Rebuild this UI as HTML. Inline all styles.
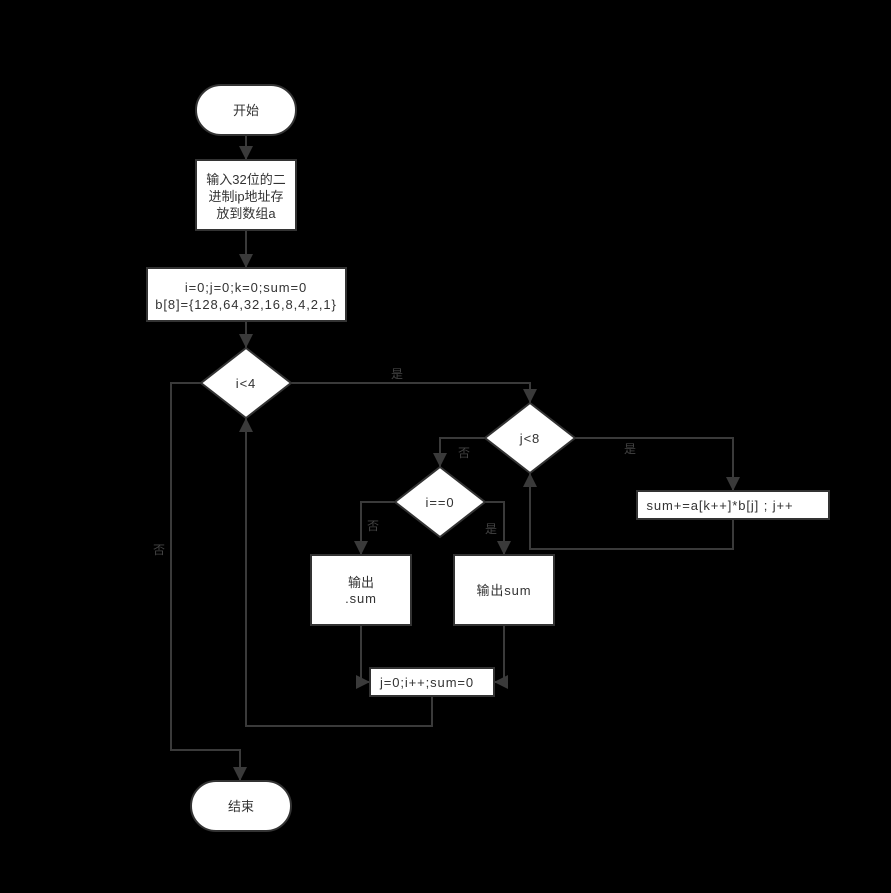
<!DOCTYPE html>
<html><head><meta charset="utf-8"><style>
html,body{margin:0;padding:0;background:#000;}
svg{display:block}
text{font-family:"Liberation Sans","Noto Sans CJK SC",sans-serif;font-size:13px;fill:#333;}
.sp{letter-spacing:0.9px}
.w{fill:#fff;stroke:#333;stroke-width:2}
.l{fill:none;stroke:#3a3a3a;stroke-width:2}
.lab{fill:#444;font-size:12px}
</style></head><body>
<svg width="891" height="893" viewBox="0 0 891 893" xmlns="http://www.w3.org/2000/svg">
<defs><marker id="a" viewBox="0 0 10 10" refX="10" refY="5" markerWidth="7" markerHeight="7" orient="auto"><path d="M0,0 L10,5 L0,10 z" fill="#3a3a3a"/></marker></defs>
<rect width="891" height="893" fill="#000"/>
<path class="l" d="M246,135 V160" marker-end="url(#a)"/>
<path class="l" d="M246,230 V268" marker-end="url(#a)"/>
<path class="l" d="M246,321 V348" marker-end="url(#a)"/>
<path class="l" d="M291,383 H530 V403" marker-end="url(#a)"/>
<path class="l" d="M485,438 H440 V467" marker-end="url(#a)"/>
<path class="l" d="M575,438 H733 V491" marker-end="url(#a)"/>
<path class="l" d="M733,519 V549 H530 V473" marker-end="url(#a)"/>
<path class="l" d="M395,502 H361 V555" marker-end="url(#a)"/>
<path class="l" d="M485,502 H504 V555" marker-end="url(#a)"/>
<path class="l" d="M361,625 V682 H370" marker-end="url(#a)"/>
<path class="l" d="M504,625 V682 H494" marker-end="url(#a)"/>
<path class="l" d="M432,696 V726 H246 V418" marker-end="url(#a)"/>
<path class="l" d="M201,383 H171 V750 H240 V781" marker-end="url(#a)"/>
<text class="lab" x="391" y="378">是</text>
<text class="lab" x="458" y="457">否</text>
<text class="lab" x="624" y="453">是</text>
<text class="lab" x="367" y="530">否</text>
<text class="lab" x="485" y="533">是</text>
<text class="lab" x="153" y="554">否</text>
<rect class="w" x="196" y="85" width="100" height="50" rx="25"/>
<text x="246" y="115" text-anchor="middle">开始</text>
<rect class="w" x="196" y="160" width="100" height="70"/>
<text x="246" y="184" text-anchor="middle">输入32位的二</text>
<text x="246" y="201" text-anchor="middle">进制ip地址存</text>
<text x="246" y="218" text-anchor="middle">放到数组a</text>
<rect class="w" x="147" y="268" width="199" height="53"/>
<text class="sp" x="246" y="292" text-anchor="middle">i=0;j=0;k=0;sum=0</text>
<text class="sp" x="246" y="309" text-anchor="middle">b[8]={128,64,32,16,8,4,2,1}</text>
<polygon class="w" points="246,348 291,383 246,418 201,383"/>
<text class="sp" x="246" y="388" text-anchor="middle">i&lt;4</text>
<polygon class="w" points="530,403 575,438 530,473 485,438"/>
<text class="sp" x="530" y="443" text-anchor="middle">j&lt;8</text>
<polygon class="w" points="440,467 485,502 440,537 395,502"/>
<text class="sp" x="440" y="507" text-anchor="middle">i==0</text>
<rect class="w" x="637" y="491" width="192" height="28"/>
<text class="sp" x="720" y="510" text-anchor="middle">sum+=a[k++]*b[j] ; j++</text>
<rect class="w" x="311" y="555" width="100" height="70"/>
<text x="361" y="587" text-anchor="middle">输出</text>
<text class="sp" x="361" y="603" text-anchor="middle">.sum</text>
<rect class="w" x="454" y="555" width="100" height="70"/>
<text class="sp" x="504" y="595" text-anchor="middle">输出sum</text>
<rect class="w" x="370" y="668" width="124" height="28"/>
<text class="sp" x="427" y="687" text-anchor="middle">j=0;i++;sum=0</text>
<rect class="w" x="191" y="781" width="100" height="50" rx="25"/>
<text x="241" y="811" text-anchor="middle">结束</text>
</svg>
</body></html>
